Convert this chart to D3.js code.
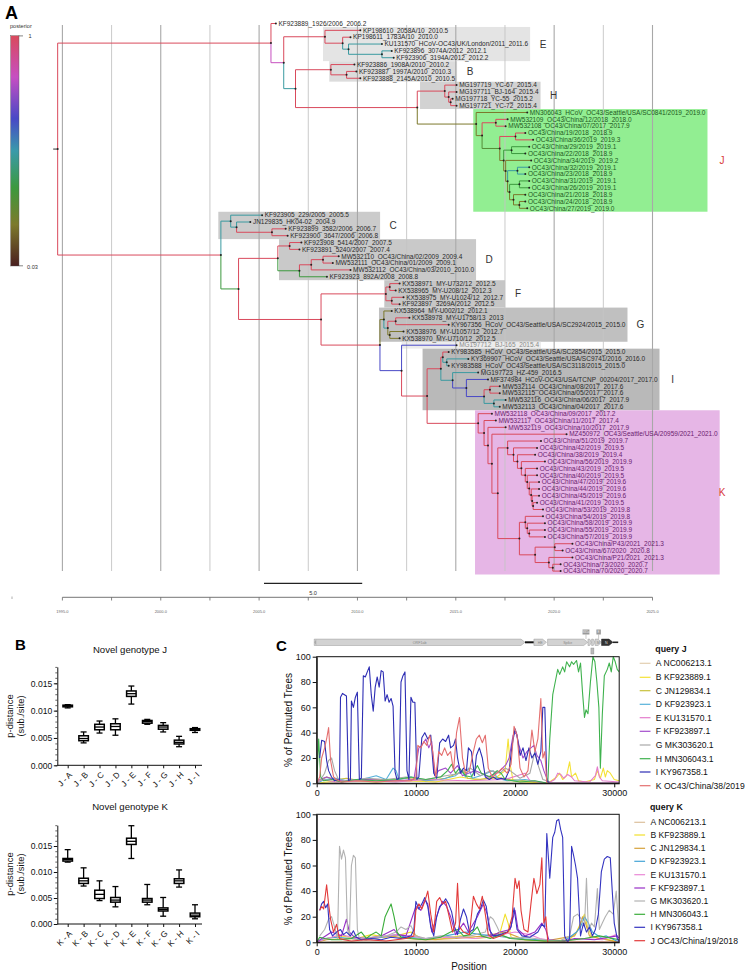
<!DOCTYPE html>
<html><head><meta charset="utf-8">
<script src="https://cdn.jsdelivr.net/npm/d3@7"></script>
<style>body{margin:0;background:#fff}svg{display:block;font-family:"Liberation Sans",Arial,sans-serif}</style>
</head><body><svg id="fig" width="750" height="973"></svg>
<script>
// ================= DATA =================
// ---- Panel A: time tree (internal node = [year, posterior, child, child]; tip = label, year is last field) ----
const cladeE = [2008.7, 1, "KP198610_2058A/10_2010.5", [2009.6, 1, "KP198611_1783A/10_2010.0", [2009.9, 0.5, "KU131570_HCoV-OC43/UK/London/2011_2011.6", [2011.6, 0.5, "KF923896_3074A/2012_2012.1", "KF923906_3194A/2012_2012.2"]]]];
const cladeB = [2009.0, 1, "KF923886_1908A/2010_2010.2", [2009.8, 1, "KF923887_1997A/2010_2010.3", "KF923888_2145A/2010_2010.5"]];
const cladeH = [2014.8, 1, "MG197719_YC-67_2015.4", [2015.0, 1, "MG197711_BJ-164_2015.4", [2015.1, 1, "MG197718_YC-55_2015.2", "MG197721_YC-72_2015.4"]]];
const cladeJ = [2016.4, 0.2, "MN306043_HCoV_OC43/Seattle/USA/SC0841/2019_2019.0",
  [2016.7, 0.2,
    [2017.4, 1, "MW532109_OC43/China/12/2018_2018.0", "MW532108_OC43/China/07/2017_2017.9"],
    [2017.6, 0.3,
      [2018.4, 1, "OC43/China/19/2018_2018.9", "OC43/China/36/2019_2019.3"],
      [2017.8, 0.2,
        [2018.2, 0.36, "OC43/China/29/2019_2019.1", "OC43/China/22/2018_2018.9"],
        [2017.9, 0.2, "OC43/China/34/2019_2019.2",
          [2018.0, 0.2,
            [2018.5, 0.5, "OC43/China/32/2019_2019.1", "OC43/China/23/2018_2018.9"],
            [2018.1, 0.2,
              [2018.6, 0.36, "OC43/China/31/2019_2019.1", "OC43/China/26/2019_2019.1"],
              [2018.3, 0.2, "OC43/China/21/2018_2018.9",
                [2018.6, 0.2, "OC43/China/24/2018_2018.9", "OC43/China/27/2019_2019.0"]]]]]]]]];
const cladeC = [2003.9, 0.5, "KF923905_229/2005_2005.5", [2004.2, 0.5, "JN129835_HK04-02_2004.9", [2006.0, 1, "KF923899_3582/2006_2006.7", "KF923900_3647/2006_2006.8"]]];
const cladeD = [2006.3, 1, [2006.9, 1, "KF923908_5414/2007_2007.5", "KF923891_5240/2007_2007.4"],
  [2007.4, 0.36, [2008.0, 1, [2008.6, 1, "MW532110_OC43/China/02/2009_2009.4", "MW532111_OC43/China/01/2009_2009.1"], "MW532112_OC43/China/03/2010_2010.0"], "KF923923_892A/2008_2008.8"]];
const cladeF = [2011.8, 1, [2012.0, 1, "KX538971_MY-U732/12_2012.5", "KX538965_MY-U208/12_2012.3"], [2012.1, 1, "KX538975_MY-U1024/12_2012.7", "KF923897_3269A/2012_2012.5"]];
const cladeG = [2011.7, 0.2, "KX538964_MY-U002/12_2012.1", [2011.9, 0.5, [2012.3, 1, "KX538978_MY-U1758/13_2013", "KY967356_HCoV_OC43/Seattle/USA/SC2924/2015_2015.0"], [2012.0, 0.2, "KX538976_MY-U1057/12_2012.7", "KX538970_MY-U710/12_2012.5"]]];
const cladeI = [2014.6, 1,
  [2014.7, 1, "KY983585_HCoV_OC43/Seattle/USA/SC2854/2015_2015.0", [2014.9, 0.5, "KY369907_HCoV_OC43/Seattle/USA/SC9741/2016_2016.0", "KY983588_HCoV_OC43/Seattle/USA/SC3118/2015_2015.0"]],
  [2015.2, 0.5, "MG197723_HZ-459_2016.5",
    [2015.9, 0.65, "MF374984_HCoV-OC43/USA/TCNP_00204/2017_2017.0",
      [2016.8, 0.65, [2017.1, 1, "MW532114_OC43/China/08/2017_2017.6", "MW532115_OC43/China/05/2017_2017.6"],
        [2017.3, 0.5, "MW532116_OC43/China/06/2017_2017.9", "MW532113_OC43/China/04/2017_2017.6"]]]]];
const cladeK = [2016.5, 1, "MW532118_OC43/China/09/2017_2017.2",
  [2016.8, 1, "MW532117_OC43/China/11/2017_2017.4",
    [2017.0, 1, "MW532119_OC43/China/10/2017_2017.9",
      [2017.2, 1, "MZ450972_OC43/Seattle/USA/20959/2021_2021.0",
        [2017.5, 1,
          [2018.0, 1, "OC43/China/51/2019_2019.7",
            [2018.3, 1, "OC43/China/42/2019_2019.5",
              [2018.5, 1, "OC43/China/38/2019_2019.4",
                [2018.7, 1, "OC43/China/56/2019_2019.9",
                  [2018.9, 1, "OC43/China/43/2019_2019.5",
                    [2019.0, 1, "OC43/China/40/2019_2019.5",
                      [2019.1, 1, "OC43/China/47/2019_2019.6",
                        [2019.2, 1, "OC43/China/44/2019_2019.6",
                          [2019.25, 1, "OC43/China/45/2019_2019.6",
                            [2019.3, 1, "OC43/China/41/2019_2019.5", "OC43/China/53/2019_2019.8"]]]]]]]]]],
          [2018.6, 1,
            [2018.9, 1, "OC43/China/54/2019_2019.8", [2019.0, 1, "OC43/China/58/2019_2019.9", [2019.1, 1, "OC43/China/55/2019_2019.9", "OC43/China/57/2019_2019.9"]]],
            [2019.4, 1,
              [2020.4, 1, "OC43/China/P43/2021_2021.3", "OC43/China/67/2020_2020.8"],
              [2020.1, 1, "OC43/China/P21/2021_2021.3", [2020.3, 1, "OC43/China/73/2020_2020.7", "OC43/China/70/2020_2020.7"]]]]]]]]];
const treeData = [1995.09, 1,
  [2005.95, 1, "KF923889_1926/2006_2006.2",
    [2006.6, 0.83, cladeE, [2007.2, 0.5, cladeB, [2013.4, 1, cladeH, cladeJ]]]],
  [2003.4, 1, cladeC,
    [2004.3, 0.36, cladeD,
      [2008.5, 1, cladeF,
        [2011.5, 1, cladeG,
          [2012.6, 0.65, "MG197712_BJ-165_2015.4", [2013.9, 1, cladeI, cladeK]]]]]]];
// clade highlight: name, first tip index, last tip index, left edge (year)
const boxNames = ["E", "B", "H", "J", "C", "D", "F", "G", "", "I", "K"];
const boxFirst = [1, 6, 9, 13, 28, 32, 38, 42, 47, 48, 57];
const boxLast  = [5, 8, 12, 27, 31, 37, 41, 46, 47, 56, 80];
const boxLeftYear = [2008.6, 2008.92, 2013.54, 2016.25, 2003.27, 2006.36, 2011.72, 2011.45, 2012.6, 2013.67, 2016.34];
const axisYears = d3.range(1995, 2025.01, 2.5);
const scaleBarYears = 5.0;

// ---- Panel B: p-distance box plots ----
const jCats = ["J - A","J - B","J - C","J - D","J - E","J - F","J - G","J - H","J - I"];
const jLow  = [0.0105, 0.0041, 0.0059, 0.0055, 0.0112, 0.0075, 0.0061, 0.0034, 0.0060];
const jQ1   = [0.0107, 0.0045, 0.0065, 0.0065, 0.0126, 0.0077, 0.0066, 0.0039, 0.0064];
const jMed  = [0.0109, 0.0049, 0.0070, 0.0071, 0.0131, 0.0080, 0.0070, 0.0042, 0.0066];
const jQ3   = [0.0110, 0.0054, 0.0075, 0.0076, 0.0136, 0.0082, 0.0073, 0.0046, 0.0067];
const jHigh = [0.0111, 0.0061, 0.0081, 0.0085, 0.0145, 0.0084, 0.0078, 0.0053, 0.0069];
const kCats = ["K - A","K - B","K - C","K - D","K - E","K - F","K - G","K - H","K - I"];
const kLow  = [0.0119, 0.0073, 0.0045, 0.0033, 0.0126, 0.0037, 0.0015, 0.0071, 0.0010];
const kQ1   = [0.0121, 0.0078, 0.0049, 0.0042, 0.0153, 0.0042, 0.0025, 0.0078, 0.0014];
const kMed  = [0.0124, 0.0083, 0.0057, 0.0046, 0.0159, 0.0046, 0.0028, 0.0083, 0.0017];
const kQ3   = [0.0126, 0.0088, 0.0065, 0.0051, 0.0165, 0.0049, 0.0031, 0.0087, 0.0021];
const kHigh = [0.0143, 0.0108, 0.0083, 0.0072, 0.0189, 0.0076, 0.0051, 0.0104, 0.0037];
const bTicks = [0, 0.005, 0.010, 0.015];

// ---- Panel C: bootscan, [position, % permuted trees] ----
const qJ_A = [[0,0],[3000,1],[8000,2],[14000,1],[20000,1],[30500,0]];
const qJ_B = [[0,0],[2000,2],[6000,1],[9000,2],[12000,1],[14500,5],[16000,3],[18000,4],[19000,10],[19300,35],[19500,15],[19800,2],[21000,1],[23300,0],[24200,5],[24500,8],[24800,3],[25200,6],[25500,17],[25700,5],[26100,8],[26400,2],[27000,1],[28000,3],[28300,10],[28600,4],[28900,12],[29100,5],[29300,10],[29600,8],[30000,3],[30500,2]];
const qJ_C = [[0,0],[1000,5],[2000,3],[3000,4],[4500,2],[6000,3],[7500,2],[9000,4],[11000,2],[13000,4],[14800,10],[15200,4],[16500,3],[18000,5],[19500,3],[21000,2],[23300,0],[30500,0]];
const qJ_D = [[0,0],[800,3],[2000,4],[3000,2],[4500,3],[6000,6],[7000,3],[7700,12],[8000,10],[8300,3],[9500,5],[11000,2],[12500,3],[14000,6],[14600,10],[15000,5],[15300,12],[15700,4],[16500,6],[17800,10],[18200,4],[19200,2],[21000,3],[23300,0],[30500,0]];
const qJ_E = [[0,0],[500,3],[2000,1],[5000,2],[8000,1],[11000,3],[15000,2],[19000,3],[21000,8],[21500,2],[23300,0],[24000,3],[24300,8],[24600,7],[24900,4],[25300,7],[25700,5],[26000,2],[27500,1],[28100,6],[28300,13],[28500,5],[28800,2],[30500,1]];
const qJ_F = [[0,0],[300,3],[1000,5],[2000,2],[5000,3],[8000,2],[9800,3],[10300,28],[10600,30],[11000,35],[11300,28],[11600,33],[11900,6],[12300,10],[13000,12],[13500,8],[14200,14],[14700,6],[15300,8],[16000,10],[16600,8],[17300,5],[18500,10],[19100,15],[19400,20],[19800,38],[20100,40],[20400,30],[20800,20],[21200,25],[21600,28],[21900,30],[22200,22],[22600,18],[22900,10],[23300,2],[23600,0],[30500,0]];
const qJ_G = [[0,0],[400,3],[800,8],[1200,18],[1500,20],[1800,10],[2200,3],[3000,2],[5000,4],[7000,3],[9000,5],[11000,3],[13000,6],[14500,8],[15500,12],[16500,6],[17500,10],[18500,8],[19000,12],[19500,10],[20500,4],[21500,8],[22000,25],[22300,15],[22800,3],[23200,2],[23600,0],[30500,0]];
const qJ_H = [[0,0],[200,35],[400,5],[700,2],[1500,3],[2500,1],[4000,3],[6000,2],[8000,3],[9500,5],[11000,3],[12500,5],[13200,10],[13600,15],[14000,8],[14400,12],[15000,6],[15600,5],[16200,14],[16600,8],[17500,5],[18200,10],[18600,8],[19000,3],[20500,1],[22000,2],[23300,0],[23500,35],[23800,70],[24100,82],[24300,90],[24500,86],[24800,92],[25000,88],[25200,96],[25500,92],[25700,96],[25900,94],[26200,97],[26400,88],[26600,95],[26800,72],[27000,52],[27150,58],[27350,55],[27600,80],[27850,100],[28050,96],[28250,80],[28450,60],[28600,12],[28800,55],[29000,85],[29300,90],[29500,95],[29700,88],[29900,100],[30100,96],[30300,90],[30500,88]];
const qJ_I = [[300,20],[500,34],[800,33],[1000,18],[1200,10],[1500,5],[1800,2],[2100,3],[2300,2],[2400,68],[2600,71],[2800,70],[3000,69],[3200,2],[3400,3],[3500,65],[3700,60],[3900,68],[4100,72],[4300,3],[4500,4],[4700,85],[4900,84],[5100,88],[5300,92],[5500,70],[5700,57],[5900,76],[6100,84],[6300,76],[6500,89],[6700,88],[6900,65],[7100,70],[7300,64],[7500,67],[7700,61],[7900,9],[8100,3],[8300,4],[8500,80],[8700,85],[8900,88],[9100,10],[9300,3],[9500,68],[9700,64],[9900,64],[10100,3],[10300,5],[10600,36],[10900,40],[11200,35],[11500,38],[11800,8],[12100,4],[12400,32],[12700,35],[13000,33],[13300,38],[13500,28],[13800,30],[14000,35],[14200,20],[14500,8],[14800,12],[15100,10],[15300,28],[15600,25],[15900,6],[16100,22],[16400,28],[16700,20],[17000,5],[17400,3],[17800,5],[18200,3],[18600,4],[19000,3],[19400,10],[19700,30],[20000,43],[20200,38],[20500,22],[20800,28],[21100,18],[21400,28],[21700,20],[22000,24],[22300,15],[22600,25],[22800,60],[23000,60],[23200,2],[23500,0],[30500,0]];
const qJ_K = [[0,0],[300,5],[500,20],[800,28],[1000,35],[1200,44],[1400,18],[1700,5],[2000,3],[2500,1],[4000,2],[6000,1],[8000,2],[9500,2],[10000,5],[10200,30],[10500,28],[10800,33],[11100,30],[11400,38],[11700,25],[12000,5],[12300,25],[12600,22],[12900,28],[13200,22],[13500,25],[13800,10],[14100,40],[14400,52],[14700,20],[15000,8],[15400,10],[15800,25],[16100,35],[16400,38],[16700,32],[17000,38],[17300,12],[17700,5],[18200,8],[18700,12],[19200,8],[19600,15],[19900,45],[20200,38],[20500,12],[20900,5],[21300,10],[21700,42],[22000,25],[22300,35],[22600,67],[22800,20],[23000,25],[23200,0],[30500,0]];
const qK_A = [[0,0],[5000,1],[15000,1],[25000,1],[30500,0]];
const qK_B = [[0,0],[1000,3],[2500,5],[4000,3],[5500,6],[7000,4],[8500,6],[9500,8],[10500,3],[12000,2],[14500,5],[16000,3],[17500,4],[18500,8],[19000,22],[19300,15],[19600,4],[21000,2],[23000,1],[25500,2],[26200,8],[26600,15],[27000,22],[27300,12],[27700,5],[28500,3],[29500,2],[30500,0]];
const qK_C = [[0,0],[1000,2],[3000,3],[5000,2],[7500,5],[9000,3],[11000,2],[14000,3],[17000,5],[19000,8],[21000,2],[23000,1],[26000,5],[26500,12],[26800,20],[27100,15],[27500,5],[28500,3],[30500,0]];
const qK_D = [[0,0],[800,3],[2000,4],[3500,3],[5000,2],[6500,4],[8000,6],[9000,4],[11000,3],[13000,5],[15000,8],[16500,6],[18000,5],[20000,3],[22500,2],[25000,1],[26200,8],[26600,12],[27000,20],[27400,15],[27800,8],[28600,4],[29200,5],[30500,0]];
const qK_E = [[0,0],[1000,3],[2500,6],[4000,3],[6000,4],[8000,6],[9500,5],[11000,3],[13500,4],[16000,3],[18000,5],[20000,8],[21500,6],[22500,3],[24000,1],[27000,3],[28800,2],[30200,6],[30500,0]];
const qK_F = [[0,0],[500,3],[1500,8],[2500,5],[3000,18],[3300,8],[3800,4],[5000,3],[6500,5],[7800,10],[8200,6],[9000,5],[10000,28],[10500,25],[10900,33],[11200,30],[11600,8],[12300,25],[12700,32],[13100,28],[13500,20],[14000,6],[14800,15],[15300,8],[16200,20],[16800,30],[17200,22],[17600,5],[18500,8],[19500,10],[20000,25],[20300,10],[21000,5],[22000,8],[22700,15],[23100,10],[23400,2],[25000,1],[26000,3],[28000,2],[30300,5],[30500,3]];
const qK_G = [[300,5],[800,10],[1200,18],[1500,20],[1800,12],[2100,3],[2300,75],[2500,65],[2700,72],[2900,66],[3100,10],[3300,5],[3500,60],[3700,68],[3900,66],[4100,10],[4300,3],[5500,4],[7000,5],[8000,8],[8500,12],[9000,10],[9500,13],[10000,5],[11000,3],[12500,5],[14000,4],[15500,5],[17000,8],[17500,20],[17800,18],[18200,12],[18600,5],[19500,3],[21000,4],[23000,2],[24500,1],[25500,5],[25900,20],[26300,22],[26700,18],[27000,12],[27200,50],[27400,8],[27700,15],[28000,12],[28300,42],[28500,10],[28800,15],[29100,20],[29500,25],[29900,22],[30200,40],[30500,5]];
const qK_H = [[0,0],[300,4],[800,3],[1500,2],[2500,2],[3500,3],[4500,8],[5000,3],[5500,6],[6000,8],[6500,5],[6900,20],[7200,25],[7500,30],[7800,20],[8100,8],[8500,4],[9500,3],[11000,2],[12500,4],[13500,8],[14200,10],[14800,5],[15500,6],[16200,12],[16600,5],[17500,3],[18500,6],[19500,3],[21000,2],[23000,1],[25000,1],[27000,3],[28500,5],[30500,2]];
const qK_I = [[300,25],[500,30],[700,32],[900,27],[1100,30],[1300,10],[1600,5],[2000,8],[2400,10],[2700,6],[3000,8],[3400,5],[3700,9],[4000,4],[4500,2],[5500,3],[6500,2],[7500,4],[8500,3],[9500,5],[9800,10],[10000,32],[10300,26],[10600,30],[10900,35],[11200,28],[11500,12],[11800,5],[12100,20],[12400,28],[12700,30],[13000,34],[13300,30],[13600,24],[13900,12],[14200,6],[14500,18],[14800,26],[15100,20],[15400,8],[15800,10],[16200,22],[16500,26],[16800,33],[17100,28],[17400,10],[17800,5],[18500,6],[19200,8],[19600,12],[19900,27],[20200,10],[20700,5],[21500,4],[22300,8],[22700,14],[23000,12],[23200,85],[23500,50],[23800,82],[24000,86],[24200,95],[24400,96],[24600,88],[24800,82],[25000,5],[25300,0],[25500,3],[25700,75],[25900,68],[26100,60],[26300,50],[26600,5],[26900,15],[27200,8],[27500,12],[27800,5],[28100,10],[28400,22],[28700,55],[29000,65],[29300,67],[29600,66],[29800,40],[30000,15],[30300,3],[30500,0]];
const qK_J = [[300,25],[500,28],[700,26],[1000,45],[1200,30],[1400,18],[1700,8],[2000,14],[2300,3],[2700,2],[3500,1],[5000,2],[7000,1],[9000,3],[9800,5],[10000,25],[10300,30],[10600,26],[10900,32],[11200,40],[11500,22],[11800,8],[12100,32],[12400,35],[12700,30],[13000,32],[13300,22],[13700,8],[14000,15],[14200,46],[14400,12],[14800,8],[15400,6],[15800,36],[16100,30],[16400,26],[16700,36],[17000,22],[17300,6],[17800,3],[18500,5],[19300,8],[19700,20],[20000,50],[20200,42],[20400,48],[20600,25],[20900,10],[21300,8],[21600,30],[21900,50],[22200,38],[22500,45],[22700,66],[22900,15],[23100,20],[23300,0],[30500,0]];
const queryJNames = ["A NC006213.1","B KF923889.1","C JN129834.1","D KF923923.1","E KU131570.1","F KF923897.1","G MK303620.1","H MN306043.1","I KY967358.1","K OC43/China/38/2019"];
const queryKNames = ["A NC006213.1","B KF923889.1","C JN129834.1","D KF923923.1","E KU131570.1","F KF923897.1","G MK303620.1","H MN306043.1","I KY967358.1","J OC43/China/19/2018"];
const queryJSeries = [qJ_A,qJ_B,qJ_C,qJ_D,qJ_E,qJ_F,qJ_G,qJ_H,qJ_I,qJ_K];
const queryKSeries = [qK_A,qK_B,qK_C,qK_D,qK_E,qK_F,qK_G,qK_H,qK_I,qK_J];
const posTicks = [0, 10000, 20000, 30000];
const pctTicks = [0, 20, 40, 60, 80, 100];
const geneNames = ["ORF1ab","HE","Spike","","","M","N"];
const geneStart = [-250, 21900, 23280, 27350, 27720, 28070, 28720];
const geneEnd   = [21000, 23170, 27330, 27700, 28050, 28700, 29870];

// ================= STYLE =================
const colJ = ["#e3cfb0","#f4e236","#c8c13c","#56b1da","#e47ccc","#a34ccc","#a8a8a8","#3fb24e","#2d2db4","#e46f6f"];
const colK = ["#dcc09c","#f1df2a","#d6a23a","#44a4d6","#ea88d6","#972ec6","#b2b2b2","#3aad3a","#3434c0","#e23a3a"];
const boxFill = {"E":"#e4e4e4","B":"#dcdcdc","H":"#d2d2d2","J":"#92ee92","C":"#cbcbcb","D":"#c9c9c9","F":"#c6c6c6","G":"#c0c0c0","":"#ececec","I":"#b9b9b9","K":"#e6b6e6"};
const FONT = '"Liberation Sans",Arial,sans-serif';

const svg = d3.select("#fig");
svg.append("rect").attr("width",750).attr("height",973).attr("fill","#fff");

// ================= PANEL A =================
svg.append("text").attr("x",5).attr("y",19).attr("font-size",18).attr("font-weight","bold").text("A");

// colour bar
const gradStops = [0,0.18,0.36,0.5,0.66,0.82,1];
const gradCols  = ["#d94a5c","#c64fc2","#4848c6","#3a9aaa","#3c993e","#7d7a2c","#4a1f1f"];
const defs = svg.append("defs");
const lg = defs.append("linearGradient").attr("id","post").attr("x1",0).attr("y1",0).attr("x2",0).attr("y2",1);
gradStops.forEach((s,i)=>lg.append("stop").attr("offset",s).attr("stop-color",gradCols[i]));
const postColor = d3.scaleLinear().domain(gradStops).range(gradCols);
const pcol = p => postColor((1-p)/0.97);
svg.append("text").attr("x",10).attr("y",28).attr("font-size",5.6).attr("fill","#333").text("posterior");
svg.append("rect").attr("x",10.7).attr("y",35.7).attr("width",8.3).attr("height",230.3).attr("fill","url(#post)").attr("stroke","#555").attr("stroke-width",0.4);
svg.append("line").attr("x1",19).attr("x2",23).attr("y1",35.9).attr("y2",35.9).attr("stroke","#333").attr("stroke-width",0.6);
svg.append("line").attr("x1",19).attr("x2",23).attr("y1",265.8).attr("y2",265.8).attr("stroke","#333").attr("stroke-width",0.6);
svg.append("text").attr("x",28.5).attr("y",38).attr("font-size",5.6).attr("fill","#333").text("1");
svg.append("text").attr("x",27).attr("y",268.5).attr("font-size",5.6).attr("fill","#333").text("0.03");

const tx = d3.scaleLinear().domain([1995, 2025]).range([55.9, 645.1]);   // tree time
const ax = d3.scaleLinear().domain([1995, 2025]).range([62.4, 652.5]);   // axis / grid
const ty = d3.scaleLinear().domain([0, 80]).range([23.5, 571.1]);        // tip order

let tipCounter = 0;
const tips = [];
function build(n){
  if (typeof n === "string"){ const t={label:n, year:+n.split("_").pop(), tip:true, i:tipCounter++}; t.y=ty(t.i); tips.push(t); return t; }
  const node = {year:n[0], p:n[1], children:[]};
  for (let k=2;k<n.length;k++) node.children.push(build(n[k]));
  node.y = (node.children[0].y + node.children[node.children.length-1].y)/2;
  return node;
}
const root = build(treeData);

const gBoxes = svg.append("g"), gGrid = svg.append("g"), gBr = svg.append("g"), gDots = svg.append("g"), gLab = svg.append("g");

function tipColor(i){
  if (i>=13 && i<=27) return "#1e5a1e";
  if (i>=57) return "#6a226e";
  if (i===47) return "#8a8a8a";
  return "#2a2a2a";
}
// tip labels
tips.forEach(t=>{
  t.node = gLab.append("text").attr("x",tx(t.year)+2.6).attr("y",t.y).attr("dy","0.35em")
    .attr("font-size",6.5).attr("fill",tipColor(t.i)).text(t.label);
  t.end = tx(t.year)+2.6+t.node.node().getComputedTextLength();
});

// clade boxes
boxNames.forEach((nm,b)=>{
  const y0 = ty(boxFirst[b]) - 3.4, y1 = ty(boxLast[b]) + 3.4;
  let right = 0;
  for (let i=boxFirst[b]; i<=boxLast[b]; i++) right = Math.max(right, tips[i].end);
  right += 2;
  const left = tx(boxLeftYear[b]);
  gBoxes.append("rect").attr("x",left).attr("y",y0).attr("width",right-left).attr("height",y1-y0).attr("fill",boxFill[nm]);
  if (nm){
    const lx = (nm==="J"||nm==="K") ? 722 : right+13;
    gLab.append("text").attr("x",lx).attr("y",(y0+y1)/2).attr("dy","0.35em").attr("text-anchor","middle")
      .attr("font-size",10).attr("fill",(nm==="J"||nm==="K")?"#d83a3a":"#333").text(nm);
  }
});

// grid
axisYears.forEach(yr=>{
  const major = Math.abs(yr%5)<1e-6;
  gGrid.append("line").attr("x1",ax(yr)).attr("x2",ax(yr)).attr("y1",25).attr("y2",571)
    .attr("stroke", major?"#a8a8a8":"#c4c4c4").attr("stroke-width",major?1.1:0.9);
});

// branches
function drawNode(n){
  if (n.tip) return;
  const px = tx(n.year);
  n.children.forEach(c=>{
    const col = c.tip ? pcol(n.p) : pcol(c.p);
    gBr.append("path").attr("d",`M${px},${n.y}V${c.y}H${tx(c.year)}`).attr("fill","none").attr("stroke",col).attr("stroke-width",1);
    drawNode(c);
  });
  gDots.append("circle").attr("cx",px).attr("cy",n.y).attr("r",1).attr("fill","#222");
}
drawNode(root);
gBr.append("line").attr("x1",tx(root.year)-4.5).attr("x2",tx(root.year)).attr("y1",root.y).attr("y2",root.y).attr("stroke","#333").attr("stroke-width",1);
tips.forEach(t=>gDots.append("circle").attr("cx",tx(t.year)).attr("cy",t.y).attr("r",1).attr("fill","#222"));

// scale bar
const sb0 = 264;
svg.append("line").attr("x1",sb0).attr("x2",sb0 + tx(1995+scaleBarYears)-tx(1995)).attr("y1",583.3).attr("y2",583.3).attr("stroke","#222").attr("stroke-width",1.2);
svg.append("text").attr("x",sb0 + (tx(1995+scaleBarYears)-tx(1995))/2).attr("y",594.5).attr("text-anchor","middle").attr("font-size",5.6).attr("fill","#333").text(scaleBarYears.toFixed(1));

// time axis
const gAx = svg.append("g");
gAx.append("line").attr("x1",ax(1995)).attr("x2",ax(2025)).attr("y1",597.3).attr("y2",597.3).attr("stroke","#666").attr("stroke-width",0.9);
axisYears.forEach(yr=>{
  gAx.append("line").attr("x1",ax(yr)).attr("x2",ax(yr)).attr("y1",597.3).attr("y2",600.5).attr("stroke","#666").attr("stroke-width",0.8);
  if (Math.abs(yr%5)<1e-6) gAx.append("text").attr("x",ax(yr)).attr("y",613).attr("text-anchor","middle").attr("font-size",4).attr("fill","#666").text(yr.toFixed(1));
});
gAx.append("line").attr("x1",12).attr("x2",12).attr("y1",596.5).attr("y2",599).attr("stroke","#999").attr("stroke-width",0.8);

// ================= PANEL B =================
svg.append("text").attr("x",15).attr("y",650).attr("font-size",15).attr("font-weight","bold").text("B");
function boxPanel(cats, lo, q1, md, q3, hi, yBottom, pxPerUnit, yMax, title, titleY, midY){
  const g = svg.append("g");
  const x = d3.scalePoint().domain(cats).range([67.7, 195]);
  const y = d3.scaleLinear().domain([0, yMax]).range([yBottom, yBottom - yMax*pxPerUnit]);
  g.append("text").attr("x",130).attr("y",titleY).attr("text-anchor","middle").attr("font-size",9.6).attr("fill","#111").text(title);
  g.append("g").attr("transform","translate(57.3,0)")
    .call(d3.axisLeft(y).tickValues(d3.range(0, yMax+1e-9, 0.001)).tickSize(2).tickFormat("").tickSizeOuter(0))
    .call(s=>s.select(".domain").remove()).selectAll("line").attr("stroke","#222").attr("stroke-width",0.7);
  const ya = g.append("g").attr("transform","translate(57.3,0)")
    .call(d3.axisLeft(y).tickValues(bTicks).tickFormat(d3.format(".3f")).tickSize(3.5).tickPadding(1.5).tickSizeOuter(0));
  ya.selectAll("text").attr("font-size",8.6).attr("font-family",FONT).attr("fill","#111");
  ya.selectAll("line,path").attr("stroke","#111").attr("stroke-width",1);
  const xa = g.append("g").attr("transform",`translate(0,${yBottom})`)
    .call(d3.axisBottom(x).tickSize(3).tickSizeOuter(0).tickFormat(""));
  xa.select(".domain").attr("d",`M57.3,0H202`);
  xa.selectAll("line,path").attr("stroke","#111").attr("stroke-width",1);
  cats.forEach(c=>{
    g.append("text").attr("transform",`translate(${x(c)+3},${yBottom+8}) rotate(-45)`).attr("text-anchor","end")
      .attr("dy","0.35em").attr("font-size",8.2).attr("fill","#111").text(c);
  });
  g.append("text").attr("transform",`translate(10,${midY}) rotate(-90)`).attr("text-anchor","middle").attr("dy","0.35em").attr("font-size",9.4).attr("fill","#111").text("p-distance");
  g.append("text").attr("transform",`translate(20.5,${midY}) rotate(-90)`).attr("text-anchor","middle").attr("dy","0.35em").attr("font-size",9.4).attr("fill","#111").text("(sub./site)");
  cats.forEach((c,i)=>{
    const cx = x(c), w = 9.5, cw = 6;
    g.append("line").attr("x1",cx).attr("x2",cx).attr("y1",y(hi[i])).attr("y2",y(lo[i])).attr("stroke","#000").attr("stroke-width",1.3);
    g.append("line").attr("x1",cx-cw/2).attr("x2",cx+cw/2).attr("y1",y(hi[i])).attr("y2",y(hi[i])).attr("stroke","#000").attr("stroke-width",1.3);
    g.append("line").attr("x1",cx-cw/2).attr("x2",cx+cw/2).attr("y1",y(lo[i])).attr("y2",y(lo[i])).attr("stroke","#000").attr("stroke-width",1.3);
    g.append("rect").attr("x",cx-w/2).attr("y",y(q3[i])).attr("width",w).attr("height",Math.max(0.5,y(q1[i])-y(q3[i])))
      .attr("fill","#fff").attr("stroke","#000").attr("stroke-width",1.5);
    g.append("line").attr("x1",cx-w/2).attr("x2",cx+w/2).attr("y1",y(md[i])).attr("y2",y(md[i])).attr("stroke","#000").attr("stroke-width",1.3);
  });
}
boxPanel(jCats, jLow, jQ1, jMed, jQ3, jHigh, 765.3, 5466.7, 0.018, "Novel genotype J", 652.5, 716);
boxPanel(kCats, kLow, kQ1, kMed, kQ3, kHigh, 924, 5200, 0.019, "Novel genotype K", 810, 874);

// ================= PANEL C =================
svg.append("text").attr("x",276).attr("y",650.5).attr("font-size",15).attr("font-weight","bold").text("C");
const cx = d3.scaleLinear().domain([0, 30500]).range([316.7, 619.2]);

// genome map
const gm = svg.append("g");
const gy = 642.3;
gm.append("line").attr("x1",cx(21000)).attr("x2",cx(21900)).attr("y1",gy).attr("y2",gy).attr("stroke","#111").attr("stroke-width",2);
gm.append("line").attr("x1",cx(29870)).attr("x2",cx(30400)).attr("y1",gy).attr("y2",gy).attr("stroke","#222").attr("stroke-width",1.6);
geneNames.forEach((nm,i)=>{
  const x0 = cx(geneStart[i]), x1 = cx(geneEnd[i]), h = 3.2, head = Math.min(4, (x1-x0)*0.5);
  const dark = i===6;
  gm.append("path").attr("d",`M${x0},${gy-h}H${x1-head}L${x1},${gy}L${x1-head},${gy+h}H${x0}Z`)
    .attr("fill",dark?"#333":"#d2d2d2").attr("stroke",dark?"#222":"#9a9a9a").attr("stroke-width",0.5);
  if (nm && !dark) gm.append("text").attr("x",(x0+x1)/2).attr("y",gy).attr("dy","0.35em").attr("text-anchor","middle").attr("font-size",3.6).attr("fill","#888").text(nm);
  if (nm && dark) gm.append("text").attr("x",(x0+x1)/2-1).attr("y",gy).attr("dy","0.35em").attr("text-anchor","middle").attr("font-size",3.6).attr("fill","#ddd").text(nm);
});
gm.append("path").attr("d",`M${cx(-250)},${gy}l2,-3v6z`).attr("fill","#aaa");
[[26800,27500,"NS5a"],[28200,28650,"E"]].forEach(d=>{
  gm.append("rect").attr("x",cx(d[0])).attr("y",629.5).attr("width",cx(d[1])-cx(d[0])).attr("height",5).attr("fill","#9a9a9a");
  gm.append("text").attr("x",(cx(d[0])+cx(d[1]))/2).attr("y",632).attr("dy","0.35em").attr("text-anchor","middle").attr("font-size",3).attr("fill","#eee").text(d[2]);
  gm.append("line").attr("x1",(cx(d[0])+cx(d[1]))/2).attr("x2",(cx(d[0])+cx(d[1]))/2).attr("y1",634.5).attr("y2",639).attr("stroke","#999").attr("stroke-width",0.5);
});
gm.append("rect").attr("x",cx(27650)).attr("y",648).attr("width",cx(27950)-cx(27650)).attr("height",6).attr("fill","#bbb").attr("stroke","#888").attr("stroke-width",0.4);

function bootPanel(series, cols, yTop, yBot, showPos, names, legX, legTitle, legTitleY, legYs, swX){
  const y = d3.scaleLinear().domain([0,100]).range([yBot, yTop]);
  const g = svg.append("g");
  const clipId = "clip"+Math.round(yTop);
  defs.append("clipPath").attr("id",clipId).append("rect").attr("x",cx(0)).attr("y",yTop-1).attr("width",cx(30500)-cx(0)).attr("height",yBot-yTop+1.5);
  const line = d3.line().x(d=>cx(d[0])).y(d=>y(d[1]));
  const gl = g.append("g").attr("clip-path",`url(#${clipId})`);
  series.forEach((s,i)=>{
    gl.append("path").attr("d",line(s)).attr("fill","none").attr("stroke",cols[i]).attr("stroke-width",1.1).attr("stroke-linejoin","round");
  });
  g.append("rect").attr("x",cx(0)).attr("y",yTop).attr("width",cx(30500)-cx(0)).attr("height",yBot-yTop).attr("fill","none").attr("stroke","#111").attr("stroke-width",1);
  const ya = g.append("g").attr("transform",`translate(${cx(0)},0)`).call(d3.axisLeft(y).tickValues(pctTicks).tickSize(4).tickPadding(2).tickSizeOuter(0));
  ya.selectAll("text").attr("font-size",9).attr("font-family",FONT).attr("fill","#111");
  ya.selectAll("line,path").attr("stroke","#111");
  const xa = g.append("g").attr("transform",`translate(0,${yBot})`).call(d3.axisBottom(cx).tickValues(posTicks).tickFormat(d3.format("d")).tickSize(4).tickPadding(2).tickSizeOuter(0));
  xa.selectAll("text").attr("font-size",9).attr("font-family",FONT).attr("fill","#111");
  xa.selectAll("line,path").attr("stroke","#111");
  g.append("text").attr("transform",`translate(288,${(yTop+yBot)/2}) rotate(-90)`).attr("text-anchor","middle").attr("dy","0.35em").attr("font-size",10).attr("fill","#111").text("% of Permuted Trees");
  if (showPos) g.append("text").attr("x",469).attr("y",966.7).attr("dy","0.35em").attr("text-anchor","middle").attr("font-size",10).attr("fill","#111").text("Position");
  g.append("text").attr("x",legX-0.5).attr("y",legTitleY).attr("dy","0.35em").attr("font-size",8.8).attr("font-weight","bold").attr("fill","#111").text(legTitle);
  names.forEach((nm,i)=>{
    g.append("line").attr("x1",swX).attr("x2",swX+10.8).attr("y1",legYs[i]).attr("y2",legYs[i]).attr("stroke",cols[i]).attr("stroke-width",1.2);
    g.append("text").attr("x",legX).attr("y",legYs[i]).attr("dy","0.35em").attr("font-size",8.6).attr("fill","#111").text(nm);
  });
}
bootPanel(queryJSeries, colJ, 656.7, 783.3, false, queryJNames, 655.8, "query J", 649.3,
  [663.3,677.3,690.7,704.3,717.7,731.3,745,758.7,772,785.7], 639.7);
bootPanel(queryKSeries, colK, 814.3, 942.3, true, queryKNames, 650.5, "query K", 806.7,
  [822.3,835,848.3,861.3,874.7,888,901,914.3,927.3,940.7], 634.3);
</script></body></html>
